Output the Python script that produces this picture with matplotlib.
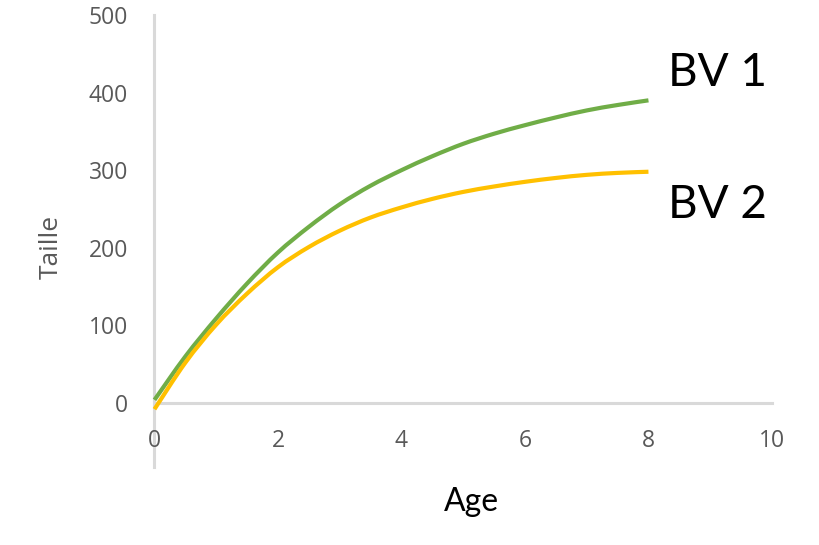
import matplotlib
matplotlib.use("Agg")
import matplotlib.pyplot as plt
from matplotlib.path import Path
from matplotlib.patches import PathPatch

# Age values and the two growth curves
age = [0, 0.5, 1, 1.5, 2, 2.5, 3, 3.5, 4, 4.5, 5, 5.5, 6, 6.5, 7, 7.5, 8]
bv1 = [4, 60, 109, 154, 194, 227, 256, 280, 300, 318, 334, 347, 358, 368, 377, 384, 390]
bv2 = [-8, 52, 101, 141, 175, 201, 222, 239, 252, 263, 272, 279, 285, 290, 294, 296.5, 298]

x_ticks = [0, 2, 4, 6, 8, 10]
y_ticks = [0, 100, 200, 300, 400, 500]
series_labels = ["BV 1", "BV 2"]

gray_text = "#595959"
axis_gray = "#d9d9d9"


def smooth_path(xs, ys):
    # Excel style "smoothed line": Catmull-Rom segments drawn as cubic Beziers
    verts = [(xs[0], ys[0])]
    codes = [Path.MOVETO]
    n = len(xs)
    for i in range(n - 1):
        x0, y0 = (xs[i - 1], ys[i - 1]) if i > 0 else (xs[i], ys[i])
        x1, y1 = xs[i], ys[i]
        x2, y2 = xs[i + 1], ys[i + 1]
        x3, y3 = (xs[i + 2], ys[i + 2]) if i + 2 < n else (x2, y2)
        verts += [(x1 + (x2 - x0) / 6, y1 + (y2 - y0) / 6),
                  (x2 - (x3 - x1) / 6, y2 - (y3 - y1) / 6),
                  (x2, y2)]
        codes += [Path.CURVE4] * 3
    return Path(verts, codes)


fig = plt.figure(figsize=(8.2, 5.45), dpi=100)
ax = fig.add_axes([0.1884, 0.1431, 0.753, 0.8294])

for ys, col in [(bv1, "#70ad47"), (bv2, "#ffc000")]:
    ax.add_patch(PathPatch(smooth_path(age, ys), fill=False, edgecolor=col,
                           lw=3, capstyle="butt", clip_on=False))

ax.set_xlim(0, 10)
ax.set_ylim(-82.5, 500)

# Excel-like axes: y axis at x=0, x axis at y=0
for side in ["top", "right"]:
    ax.spines[side].set_visible(False)
ax.spines["bottom"].set_position(("data", 0))
for side in ["left", "bottom"]:
    ax.spines[side].set_color(axis_gray)
    ax.spines[side].set_linewidth(2.2)
    ax.spines[side].set_zorder(0)

ax.set_xticks(x_ticks)
ax.set_yticks(y_ticks)
ax.tick_params(length=0, colors=gray_text, labelsize=16.5)
ax.tick_params(axis="x", pad=19)
ax.tick_params(axis="y", pad=19)
for lbl in ax.get_xticklabels() + ax.get_yticklabels():
    lbl.set_fontfamily("Open Sans")

fig.text(51 / 820, 1 - 247 / 545, "Taille", rotation=90, ha="center", va="center",
         color=gray_text, fontsize=19, family="Open Sans")
fig.text(471 / 820, 1 - 502 / 545, "Age", ha="center", va="center",
         color="black", fontsize=23, family="Lato")

fig.text(668 / 820, 1 - 86 / 545, series_labels[0], ha="left", va="baseline",
         color="black", fontsize=33, family="Lato")
fig.text(668 / 820, 1 - 218 / 545, series_labels[1], ha="left", va="baseline",
         color="black", fontsize=33, family="Lato")

fig.savefig("out.png", dpi=100)
